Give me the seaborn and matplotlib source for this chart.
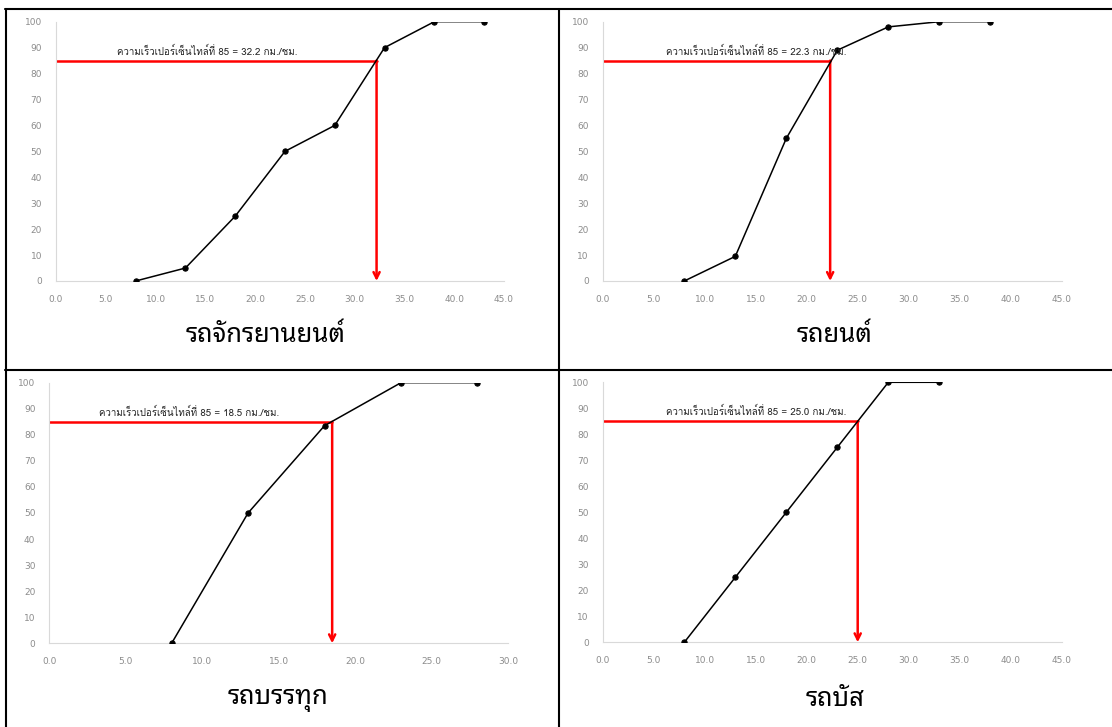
import matplotlib
matplotlib.use("Agg")
import matplotlib.pyplot as plt
from matplotlib.lines import Line2D
import seaborn as sns
import pandas as pd

# cumulative speed distributions per vehicle type
moto_speed = [8, 13, 18, 23, 28, 33, 38, 43]
moto_pct = [0, 5, 25, 50, 60, 90, 100, 100]
car_speed = [8, 13, 18, 23, 28, 33, 38]
car_pct = [0, 9.5, 55, 89, 98, 100, 100]
truck_speed = [8, 13, 18, 23, 28]
truck_pct = [0, 50, 83.5, 100, 100]
bus_speed = [8, 13, 18, 23, 28, 33]
bus_pct = [0, 25, 50, 75, 100, 100]

titles = ["รถจักรยานยนต์", "รถยนต์", "รถบรรทุก", "รถบัส"]
p85 = [32.2, 22.3, 18.5, 25.0]
x_max = [45, 45, 30, 45]

sns.set_style("white")
plt.rcParams["font.family"] = ["Loma", "DejaVu Sans"]

fig = plt.figure(figsize=(11.12, 7.27), dpi=100)

W, H = 1112, 727
boxes = [(56, 21.7, 504, 281), (602.7, 21.7, 1061.7, 281),
         (49.3, 382.7, 508, 643.3), (602.7, 382.3, 1061.7, 642.3)]
text_x = [0.136, 0.138, 0.108, 0.138]
caption_xy = [(266, 336), (835, 336), (278, 700), (835, 700)]

series = [(moto_speed, moto_pct), (car_speed, car_pct),
          (truck_speed, truck_pct), (bus_speed, bus_pct)]

for i, ((xs, ys), (l, t, r, b)) in enumerate(zip(series, boxes)):
    ax = fig.add_axes([l / W, 1 - b / H, (r - l) / W, (b - t) / H])
    df = pd.DataFrame({"speed": xs, "pct": ys})
    sns.lineplot(data=df, x="speed", y="pct", ax=ax, color="black",
                 linewidth=1.1, marker="o", markersize=3.8,
                 markeredgecolor="black", zorder=3)
    v = p85[i]
    # 85th percentile guide: horizontal at 85 %, arrow down to the speed axis
    ax.plot([0, v], [85, 85], color="#ff0000", lw=1.8, zorder=2)
    ax.annotate("", xy=(v, 0), xytext=(v, 85),
                arrowprops=dict(arrowstyle="->", color="#ff0000", lw=1.8,
                                mutation_scale=11, shrinkA=0, shrinkB=0),
                zorder=2)
    ax.text(text_x[i], 0.887,
            f"ความเร็วเปอร์เซ็นไทล์ที่ 85 = {v:.1f} กม./ชม.",
            transform=ax.transAxes, fontsize=7, ha="left", va="center",
            color="#222222")
    ax.set_xlim(0, x_max[i])
    ax.set_ylim(0, 100)
    ax.set_xticks(range(0, x_max[i] + 1, 5))
    ax.set_xticklabels([f"{k:.1f}" for k in range(0, x_max[i] + 1, 5)])
    ax.set_yticks(range(0, 101, 10))
    ax.set_yticks(range(5, 100, 10), minor=True)
    ax.set_xlabel("")
    ax.set_ylabel("")
    for s in ["top", "right"]:
        ax.spines[s].set_visible(False)
    for s in ["left", "bottom"]:
        ax.spines[s].set_color("#d9d9d9")
        ax.spines[s].set_linewidth(0.8)
    ax.tick_params(axis="both", which="both", colors="#d9d9d9",
                   labelcolor="#8c8c8c", labelsize=6.5, length=4, width=0.8,
                   direction="out")
    ax.tick_params(axis="x", pad=6)
    ax.tick_params(axis="y", which="major", length=0, pad=10)
    ax.tick_params(axis="y", which="minor", length=4)
    for lab in ax.get_xticklabels() + ax.get_yticklabels():
        lab.set_fontfamily("DejaVu Sans")
    ax.patch.set_alpha(0)

    cx, cy = caption_xy[i]
    fig.text(cx / W, 1 - cy / H, titles[i], fontsize=18.5, ha="center",
             va="center", color="black", fontweight="light",
             family=["Noto Sans Thai Looped", "DejaVu Sans"])

# table grid around the four panels
lw = 1.5
def hline(y, x0=5, x1=1112):
    fig.add_artist(Line2D([x0 / W, x1 / W], [1 - y / H, 1 - y / H],
                          color="black", lw=lw))
def vline(x, y0=8.5, y1=727):
    fig.add_artist(Line2D([x / W, x / W], [1 - y0 / H, 1 - y1 / H],
                          color="black", lw=lw))
hline(9)
hline(370)
vline(6)
vline(559)

fig.savefig("out.png", dpi=100)
